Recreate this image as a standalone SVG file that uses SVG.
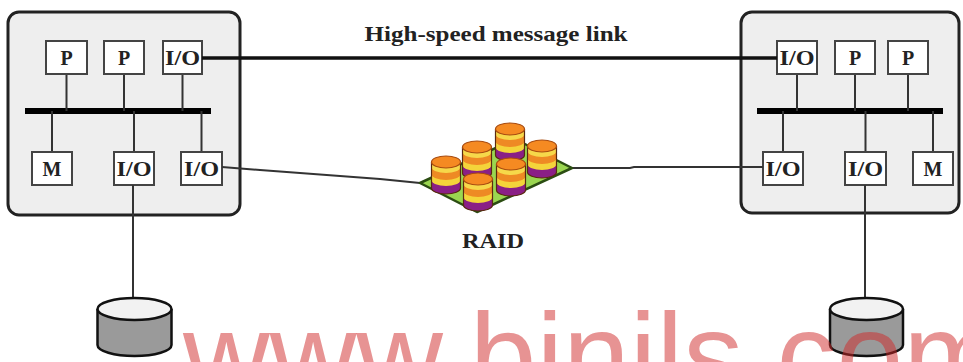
<svg xmlns="http://www.w3.org/2000/svg" width="963" height="362" viewBox="0 0 963 362">
  <style>
    .frame { fill: #eeeeee; stroke: #222; stroke-width: 3; }
    .unit { fill: #fff; stroke: #444; stroke-width: 2; }
    .lbl { font-family: "Liberation Serif", "Times New Roman", serif; font-weight: bold; font-size: 20px; fill: #222; text-anchor: middle; }
    .cap { font-family: "Liberation Serif", "Times New Roman", serif; font-weight: bold; fill: #222; text-anchor: middle; }
    .bus { stroke: #000; stroke-width: 6; }
    .tap { stroke: #333; stroke-width: 2; fill: none; }
    .link { stroke: #111; stroke-width: 3.5; fill: none; }
    .wire { stroke: #333; stroke-width: 2; fill: none; }
    .disk { stroke: #111; stroke-width: 2.5; }
  </style>
  <defs>
    <!-- one stack of platters for the RAID array -->
    <g id="stack">
      <path d="M-14.5,0 v26 a14.5,6 0 0 0 29,0 v-26 z" fill="#8a1f86"/>
      <path d="M-14.5,0 v18 a14.5,6 0 0 0 29,0 v-18 z" fill="#f4d43a"/>
      <path d="M-14.5,0 v12 a14.5,6 0 0 0 29,0 v-12 z" fill="#ee8a24"/>
      <path d="M-14.5,0 v5 a14.5,6 0 0 0 29,0 v-5 z" fill="#f6d84a"/>
      <path d="M-14.5,0 v26 a14.5,6 0 0 0 29,0 v-26" fill="none" stroke="#5a2a10" stroke-width="1.2"/>
      <ellipse cx="0" cy="0" rx="14.5" ry="6" fill="#f58a22" stroke="#a84c10" stroke-width="1.2"/>
    </g>
  </defs>

  <!-- left cluster node -->
  <g id="node-left">
    <rect class="frame" x="8" y="12" width="232" height="203" rx="11"/>
    <line class="bus" x1="25" y1="111" x2="211" y2="111"/>
    <line class="tap" x1="66.5" y1="74" x2="66.5" y2="111"/>
    <line class="tap" x1="124" y1="74" x2="124" y2="111"/>
    <line class="tap" x1="182.5" y1="74" x2="182.5" y2="111"/>
    <line class="tap" x1="52" y1="111" x2="52" y2="152"/>
    <line class="tap" x1="134" y1="111" x2="134" y2="152"/>
    <line class="tap" x1="201.5" y1="111" x2="201.5" y2="152"/>
    <rect class="unit" x="46" y="41" width="41" height="33"/>
    <text class="lbl" x="66.5" y="64.5">P</text>
    <rect class="unit" x="104" y="41" width="40" height="33"/>
    <text class="lbl" x="124" y="64.5">P</text>
    <rect class="unit" x="163" y="41" width="39" height="33"/>
    <text class="lbl" x="182.5" y="64.5" textLength="35" lengthAdjust="spacingAndGlyphs">I/O</text>
    <rect class="unit" x="32" y="152" width="40" height="33"/>
    <text class="lbl" x="52" y="175.5">M</text>
    <rect class="unit" x="114" y="152" width="40" height="33"/>
    <text class="lbl" x="134" y="175.5" textLength="35" lengthAdjust="spacingAndGlyphs">I/O</text>
    <rect class="unit" x="181" y="152" width="41" height="33"/>
    <text class="lbl" x="201.5" y="175.5" textLength="35" lengthAdjust="spacingAndGlyphs">I/O</text>
  </g>

  <!-- right cluster node -->
  <g id="node-right">
    <rect class="frame" x="741" y="12" width="218" height="201" rx="11"/>
    <line class="bus" x1="757" y1="111" x2="943" y2="111"/>
    <line class="tap" x1="797" y1="74" x2="797" y2="111"/>
    <line class="tap" x1="855" y1="74" x2="855" y2="111"/>
    <line class="tap" x1="908" y1="74" x2="908" y2="111"/>
    <line class="tap" x1="783" y1="111" x2="783" y2="152"/>
    <line class="tap" x1="865.5" y1="111" x2="865.5" y2="152"/>
    <line class="tap" x1="933" y1="111" x2="933" y2="152"/>
    <rect class="unit" x="777" y="41" width="40" height="33"/>
    <text class="lbl" x="797" y="64.5" textLength="35" lengthAdjust="spacingAndGlyphs">I/O</text>
    <rect class="unit" x="835" y="41" width="40" height="33"/>
    <text class="lbl" x="855" y="64.5">P</text>
    <rect class="unit" x="888" y="41" width="40" height="33"/>
    <text class="lbl" x="908" y="64.5">P</text>
    <rect class="unit" x="763" y="152" width="40" height="33"/>
    <text class="lbl" x="783" y="175.5" textLength="35" lengthAdjust="spacingAndGlyphs">I/O</text>
    <rect class="unit" x="845" y="152" width="41" height="33"/>
    <text class="lbl" x="865.5" y="175.5" textLength="35" lengthAdjust="spacingAndGlyphs">I/O</text>
    <rect class="unit" x="913" y="152" width="40" height="33"/>
    <text class="lbl" x="933" y="175.5">M</text>
  </g>

  <!-- connectors -->
  <g id="connectors">
    <line class="link" x1="202" y1="58" x2="777" y2="58"/>
    <polyline class="wire" points="222,167 260,170 300,173 340,176 380,179 420,183"/>
    <polyline class="wire" points="570,168 630,168 634,167 763,167"/>
    <line class="wire" x1="133" y1="185" x2="133" y2="298"/>
    <line class="wire" x1="865" y1="185" x2="865" y2="298"/>
  </g>

  <text class="cap" x="496" y="41" font-size="21" textLength="263" lengthAdjust="spacingAndGlyphs">High-speed message link</text>

  <!-- shared RAID array -->
  <g id="raid">
    <polygon points="420,183 477,212 572,168 515,139" fill="#9ad650" stroke="#2b4d12" stroke-width="2.5" stroke-linejoin="round"/>
    <use href="#stack" x="510" y="129"/>
    <use href="#stack" x="542" y="146"/>
    <use href="#stack" x="477" y="147"/>
    <use href="#stack" x="446" y="162"/>
    <use href="#stack" x="511" y="164"/>
    <use href="#stack" x="478" y="179"/>
    <text class="cap" x="493" y="248" font-size="20" textLength="62" lengthAdjust="spacingAndGlyphs">RAID</text>
  </g>

  <!-- local disks -->
  <g id="disk-left">
    <path class="disk" d="M97.5,309 V345 A37,11 0 0 0 171.5,345 V309" fill="#9a9a9a"/>
    <ellipse class="disk" cx="134.5" cy="309" rx="37" ry="11" fill="#f2f2f2"/>
  </g>
  <g id="disk-right">
    <path class="disk" d="M830,309 V345 A36.5,11 0 0 0 903,345 V309" fill="#9a9a9a"/>
    <ellipse class="disk" cx="866.5" cy="309" rx="36.5" ry="11" fill="#f2f2f2"/>
  </g>

  <text x="183" y="397" font-family="'Liberation Sans', Arial, sans-serif" font-size="120" fill="#d02828" fill-opacity="0.5">www.binils.com</text>
</svg>
